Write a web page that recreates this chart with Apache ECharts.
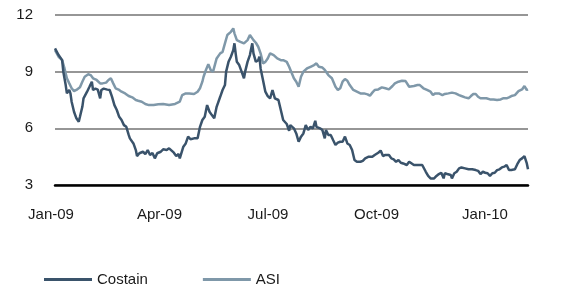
<!DOCTYPE html>
<html>
<head>
<meta charset="utf-8">
<script src="https://cdn.jsdelivr.net/npm/echarts@6/dist/echarts.min.js"></script>
<style>
  html, body { margin: 0; padding: 0; background: #fff; }
  #main { width: 568px; height: 286px; }
</style>
</head>
<body>
<div id="main"></div>
<script>
// days counted from 1 Jan 2009
var tickLabels = ["Jan-09", "Apr-09", "Jul-09", "Oct-09", "Jan-10"];

var costainDays = [3, 6, 9, 10, 12, 13, 15, 16, 17, 19, 21, 23, 24, 26, 27, 30, 32, 34, 35, 37, 39, 41, 42, 44, 47, 49, 51, 53, 55, 57, 59, 61, 63, 65, 66, 69, 71, 72, 74, 77, 79, 81, 83, 85, 87, 89, 92, 94, 97, 99,
  103, 105, 107, 108, 111, 113, 115, 117, 120, 123, 125, 127, 129, 131, 133, 135, 137, 139, 142, 144, 146, 147, 149, 151, 153, 154, 155, 156, 158, 160, 162, 163, 165, 167, 169, 170, 172, 174, 175, 176, 178, 180, 182, 184, 186, 188, 189, 191, 193, 195, 198, 200,
  201, 204, 206, 208, 210, 212, 214, 216, 218, 220, 222, 223, 226, 228, 230, 231, 233, 235, 237, 239, 241, 243, 245, 247, 249, 251, 253, 255, 257, 260, 262, 264, 267, 270, 272, 275, 277, 279, 281, 284, 286, 288, 290, 292, 294, 296, 299,
  301, 302, 305, 308, 310, 312, 315, 317, 319, 322, 324, 326, 328, 330, 331, 333, 336, 337, 339, 341, 343, 345, 348, 351, 354, 357, 359, 361, 363, 365, 367, 369, 371, 373, 375, 377, 379, 381, 383, 385, 387, 390, 392, 394, 396, 398, 400, 401];
var costainVals = [10.23, 9.88, 9.61, 9.0, 8.29, 7.85, 8.03, 7.85, 7.41, 6.88, 6.53, 6.35, 6.61, 7.14, 7.59, 7.94, 8.2, 8.47, 8.03, 8.1, 8.05, 7.59, 8.03, 8.1, 8.05, 8.03, 7.67, 7.23, 6.97, 6.61, 6.44, 6.17, 6.08, 5.65, 5.47, 5.2, 4.85, 4.53, 4.68, 4.76, 4.64, 4.85, 4.59, 4.7, 4.41, 4.68, 4.76, 4.89, 4.85, 4.94,
  4.71, 4.53, 4.64, 4.41, 5.03, 5.2, 5.56, 5.42, 5.47, 5.47, 6.08, 6.44, 6.61, 7.23, 6.88, 6.7, 6.53, 7.14, 7.67, 8.03, 8.29, 9.0, 9.52, 9.79, 10.14, 10.5, 9.97, 9.52, 9.35, 9.0, 8.65, 9.0, 9.52, 9.88, 10.5, 9.97, 9.52, 9.61, 9.79, 9.17, 8.56, 7.94, 7.71, 7.59, 8.03, 7.59, 7.55, 7.5, 6.97, 6.44, 6.23, 5.87,
  6.17, 6.0, 5.73, 5.29, 5.56, 5.73, 6.17, 5.91, 6.08, 6.0, 6.4, 6.08, 6.0, 5.91, 5.47, 5.91, 5.65, 5.65, 5.38, 5.12, 5.24, 5.29, 5.29, 5.56, 5.2, 5.12, 4.85, 4.32, 4.23, 4.23, 4.28, 4.41, 4.5, 4.5, 4.59, 4.71, 4.82, 4.53, 4.59, 4.59, 4.41, 4.36, 4.23, 4.32, 4.18, 4.14, 4.06,
  4.23, 4.14, 4.06, 4.06, 4.06, 4.06, 3.7, 3.48, 3.35, 3.35, 3.48, 3.58, 3.65, 3.35, 3.62, 3.58, 3.53, 3.35, 3.62, 3.7, 3.88, 3.93, 3.88, 3.83, 3.83, 3.79, 3.75, 3.58, 3.7, 3.65, 3.62, 3.48, 3.62, 3.65, 3.79, 3.83, 3.93, 3.97, 4.06, 3.79, 3.79, 3.83, 4.1, 4.32, 4.41, 4.53, 4.14, 3.83];

var asiDays = [3, 6, 9, 11, 13, 15, 17, 19, 21, 24, 26, 28, 31, 33, 35, 38, 41, 43, 46, 48, 50, 52, 54, 57, 59, 62, 65, 68, 71, 73, 76, 79, 82, 86, 90, 94, 99,
  104, 108, 110, 113, 116, 120, 123, 125, 127, 128, 130, 132, 134, 136, 137, 139, 142, 144, 146, 148, 151, 153, 154, 156, 159, 162, 165, 167, 170, 172, 174, 176, 178, 180, 182, 184, 187, 190, 193, 195, 198, 200,
  201, 204, 206, 208, 210, 212, 215, 218, 221, 223, 225, 228, 230, 233, 236, 239, 241, 243, 245, 247, 249, 251, 254, 257, 260, 263, 266, 268, 270, 272, 275, 278, 281, 284, 287, 289, 292, 295, 298,
  301, 302, 305, 308, 310, 313, 316, 319, 321, 323, 326, 329, 331, 334, 337, 340, 343, 345, 348, 351, 353, 355, 357, 359, 361, 364, 366, 369, 372, 375, 378, 380, 383, 385, 387, 390, 393, 396, 398, 400, 401];
var asiVals = [10.14, 9.79, 9.61, 9.17, 8.65, 8.38, 8.12, 7.97, 8.03, 8.17, 8.47, 8.73, 8.86, 8.82, 8.65, 8.56, 8.38, 8.38, 8.42, 8.56, 8.65, 8.38, 8.12, 8.03, 7.94, 7.85, 7.71, 7.64, 7.5, 7.46, 7.41, 7.29, 7.23, 7.23, 7.27, 7.29, 7.23,
  7.29, 7.41, 7.76, 7.85, 7.85, 7.82, 7.94, 8.12, 8.47, 8.73, 9.09, 9.4, 9.09, 9.0, 9.0, 9.7, 9.97, 10.05, 10.5, 10.94, 11.11, 11.29, 11.03, 10.67, 10.58, 10.5, 10.67, 10.94, 10.67, 10.53, 10.32, 9.97, 9.44, 9.52, 9.7, 9.97, 9.88, 9.7, 9.61, 9.61, 9.52, 9.26,
  9.17, 8.65, 8.47, 8.2, 8.73, 9.0, 9.17, 9.26, 9.35, 9.44, 9.26, 9.22, 9.09, 8.82, 8.65, 8.2, 8.03, 8.12, 8.47, 8.61, 8.52, 8.29, 8.03, 7.94, 7.85, 7.85, 7.8, 7.73, 7.89, 8.03, 8.06, 8.17, 8.12, 8.06, 8.24, 8.38, 8.47, 8.52, 8.5,
  8.2, 8.17, 8.24, 8.29, 8.29, 8.12, 8.03, 7.94, 7.76, 7.85, 7.85, 7.76, 7.82, 7.85, 7.89, 7.85, 7.76, 7.71, 7.64, 7.59, 7.71, 7.82, 7.82, 7.67, 7.59, 7.59, 7.59, 7.53, 7.53, 7.5, 7.53, 7.59, 7.59, 7.64, 7.71, 7.76, 7.97, 8.06, 8.24, 8.03, 8.06];

function pairs(days, vals) {
  var out = [];
  for (var i = 0; i < days.length; i++) {
    out.push([days[i], vals[i]]);
  }
  return out;
}

var font = "'Liberation Sans', Arial, sans-serif";
var myChart = echarts.init(document.getElementById("main"));

var option = {
  animation: false,
  color: ["#3a536b", "#7f98a9"],
  legend: {
    data: ["Costain", "ASI"],
    left: 39,
    top: 267,
    icon: "rect",
    itemWidth: 48,
    itemHeight: 3,
    itemGap: 55,
    textStyle: { fontSize: 15, color: "#1a1a1a", fontFamily: font },
  },
  grid: [
    { left: 55, right: 40, top: 15, bottom: 101 },
    { left: 51, right: 83, top: 15, bottom: 101 },
  ],
  xAxis: [
    {
      type: "value",
      gridIndex: 0,
      min: 3,
      max: 401,
      axisLabel: { show: false },
      axisTick: { show: false },
      splitLine: { show: false },
      axisLine: { show: true, lineStyle: { color: "#000", width: 2.5 } },
    },
    {
      // only carries the quarter labels
      type: "value",
      gridIndex: 1,
      min: 0,
      max: 365,
      interval: 91.25,
      axisLine: { show: false },
      axisTick: { show: false },
      splitLine: { show: false },
      axisLabel: {
        margin: 22,
        fontSize: 15,
        color: "#1a1a1a",
        fontFamily: font,
        formatter: function (v) {
          return tickLabels[Math.round(v / 91.25)];
        },
      },
    },
  ],
  yAxis: [
    {
      type: "value",
      gridIndex: 0,
      min: 3,
      max: 12,
      interval: 3,
      axisLine: { show: false },
      axisTick: { show: false },
      axisLabel: { margin: 22, fontSize: 15, color: "#1a1a1a", fontFamily: font },
      splitLine: { lineStyle: { color: "#969696", width: 2 } },
    },
    { type: "value", gridIndex: 1, show: false, min: 0, max: 1 },
  ],
  series: [
    {
      name: "Costain",
      type: "line",
      xAxisIndex: 0,
      yAxisIndex: 0,
      showSymbol: false,
      lineStyle: { width: 2.5 },
      data: pairs(costainDays, costainVals),
      z: 3,
    },
    {
      name: "ASI",
      type: "line",
      xAxisIndex: 0,
      yAxisIndex: 0,
      showSymbol: false,
      lineStyle: { width: 2.5 },
      data: pairs(asiDays, asiVals),
      z: 2,
    },
  ],
};
myChart.setOption(option);
</script>
</body>
</html>
